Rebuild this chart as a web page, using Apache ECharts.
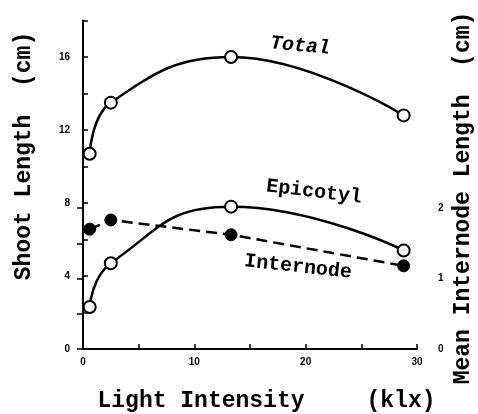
<!DOCTYPE html>
<html>
<head>
<meta charset="utf-8">
<script src="https://cdn.jsdelivr.net/npm/echarts@6/dist/echarts.min.js"></script>
<style>html,body{margin:0;padding:0;background:#fff;}#c{width:478px;height:414px;}</style>
</head>
<body>
<div id="c"></div>
<script>
// Data
const lightX = [0.6, 2.5, 13.3, 28.8];            // Light intensity (klx)
const totalLen = [10.7, 13.5, 16.0, 12.8];        // Total shoot length (cm)
const epicotylLen = [2.3, 4.7, 7.8, 5.4];         // Epicotyl length (cm)
const internodeLen = [1.70, 1.83, 1.62, 1.18];    // Mean internode length (cm), right axis
const xTicks = [0, 10, 20, 30];
const leftTicks = [0, 4, 8, 12, 16];
const rightTicks = [0, 1, 2];

const pairs = (xs, ys) => xs.map((x, i) => [x, ys[i]]);
const chart = echarts.init(document.getElementById('c'), null, {renderer: 'canvas'});
const FONT = '"Liberation Mono", "DejaVu Sans Mono", monospace';
const LBL = {color: '#000', fontFamily: 'Liberation Sans', fontWeight: 'bold', fontSize: 10};
const axLine = {show: true, lineStyle: {color: '#000', width: 2}};
const tick = (len) => ({show: true, inside: true, length: len, lineStyle: {color: '#000', width: 1.5}});
const center = {align: 'center', verticalAlign: 'middle', textAlign: 'center', textVerticalAlign: 'middle', fill: '#000'};

chart.setOption({
  animation: false,
  backgroundColor: '#fff',
  grid: [
    {left: 83, right: 61, top: 20.5, bottom: 65},
    {left: 83, right: 61, top: 208, bottom: 65}
  ],
  xAxis: [
    {gridIndex: 0, type: 'value', min: 0, max: 30, interval: 5,
     axisLine: axLine, axisTick: tick(5), splitLine: {show: false},
     axisLabel: Object.assign({margin: 8, formatter: v => xTicks.includes(v) ? String(v) : ''}, LBL)},
    {gridIndex: 1, type: 'value', min: 0, max: 30, show: false}
  ],
  yAxis: [
    {gridIndex: 0, type: 'value', min: 0, max: 18, interval: 2,
     axisLine: axLine, axisTick: tick(5), splitLine: {show: false},
     axisLabel: Object.assign({margin: 13, formatter: v => leftTicks.includes(v) ? String(v) : ''}, LBL)},
    {gridIndex: 1, type: 'value', position: 'right', offset: 15, min: 0, max: 2, interval: 0.5,
     axisLine: axLine, axisTick: tick(6), splitLine: {show: false},
     axisLabel: Object.assign({margin: 6, formatter: v => rightTicks.includes(v) ? String(v) : ''}, LBL)}
  ],
  series: [
    {name: 'Total', type: 'line', xAxisIndex: 0, yAxisIndex: 0, smooth: 0.45,
     data: pairs(lightX, totalLen), symbol: 'circle', symbolSize: 12,
     lineStyle: {color: '#000', width: 2.5},
     itemStyle: {color: '#fff', borderColor: '#000', borderWidth: 2}, z: 3},
    {name: 'Epicotyl', type: 'line', xAxisIndex: 0, yAxisIndex: 0, smooth: 0.5,
     data: pairs(lightX, epicotylLen), symbol: 'circle', symbolSize: 12,
     lineStyle: {color: '#000', width: 2.5},
     itemStyle: {color: '#fff', borderColor: '#000', borderWidth: 2}, z: 3},
    {name: 'Internode', type: 'line', xAxisIndex: 1, yAxisIndex: 1, smooth: false,
     data: pairs(lightX, internodeLen), symbol: 'circle', symbolSize: 12,
     lineStyle: {color: '#000', width: 2.5, type: [11, 6]},
     itemStyle: {color: '#000', borderColor: '#000', borderWidth: 1}, z: 4}
  ],
  graphic: [
    {type: 'text', x: 24, y: 156, rotation: Math.PI / 2,
     style: Object.assign({text: 'Shoot Length  (cm)', font: 'bold 23px ' + FONT}, center)},
    {type: 'text', x: 463, y: 198, rotation: Math.PI / 2,
     style: Object.assign({text: 'Mean Internode Length  (cm)', font: 'bold 23px ' + FONT}, center)},
    {type: 'text', x: 201, y: 401,
     style: Object.assign({text: 'Light Intensity', font: 'bold 23px ' + FONT}, center)},
    {type: 'text', x: 401, y: 401,
     style: Object.assign({text: '(klx)', font: 'bold 23px ' + FONT}, center)},
    {type: 'text', x: 300, y: 46, rotation: -0.09,
     style: Object.assign({text: 'Total', font: 'italic bold 20px ' + FONT}, center)},
    {type: 'text', x: 314, y: 192, rotation: -0.12,
     style: Object.assign({text: 'Epicotyl', font: 'bold 20px ' + FONT}, center)},
    {type: 'text', x: 298, y: 267, rotation: -0.11,
     style: Object.assign({text: 'Internode', font: 'bold 20px ' + FONT}, center)}
  ]
});
</script>
</body>
</html>
